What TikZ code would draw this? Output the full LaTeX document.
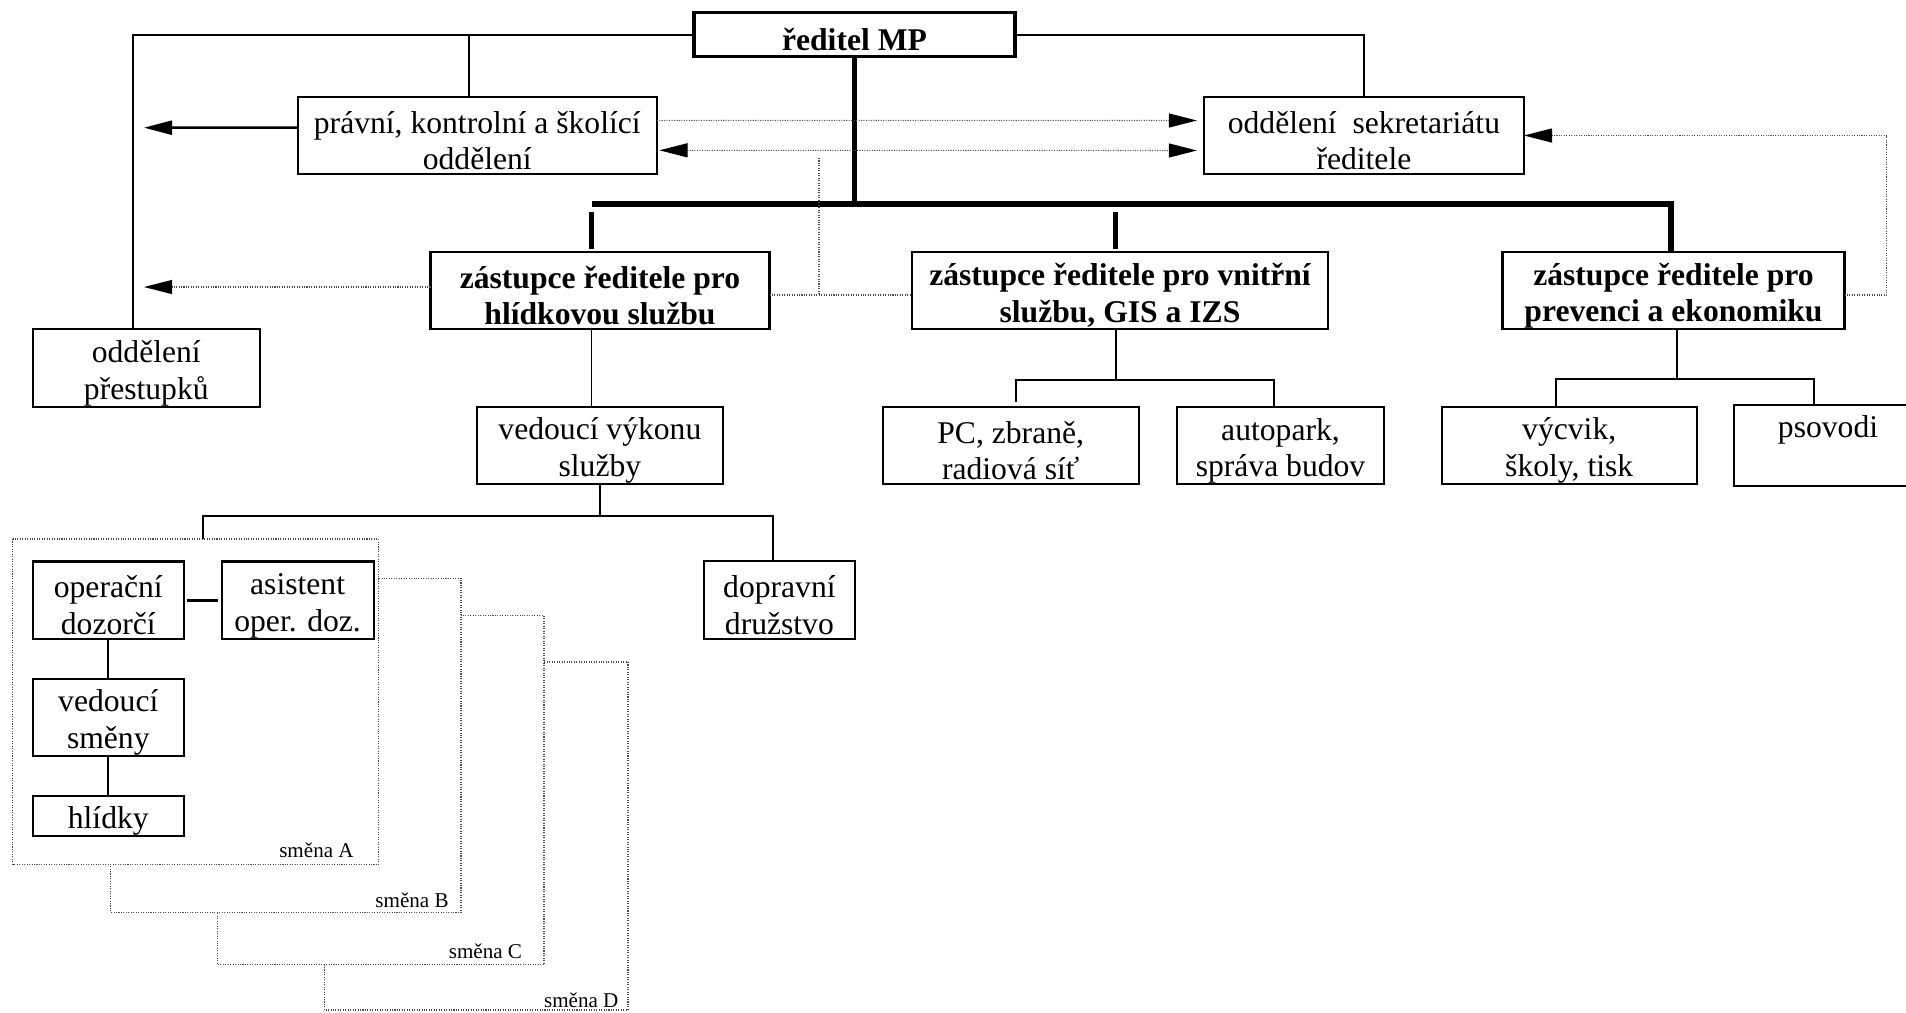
\documentclass[tikz,border=0pt]{standalone}
\usepackage{fontspec}
\setmainfont{Liberation Serif}
\usepackage{tikz}
\usetikzlibrary{positioning,calc,arrows.meta}

\newcommand{\toppad}{\rule{0pt}{18.5pt}}

\tikzset{
    unit/.style={x=0.02cm, y=-0.02cm},
    box/.style={draw, line width=1.2pt, align=center, inner sep=0pt, outer sep=0pt, fill=white,
        font=\fontsize{18}{20.9}\selectfont},
    headbox/.style={box, line width=2pt, font=\fontsize{18}{20.9}\selectfont\bfseries},
    deputybox/.style={box, font=\fontsize{18}{20.9}\selectfont\bfseries},
    boxsize/.style 2 args={minimum width=#1*0.02cm, minimum height=#2*0.02cm},
    link/.style={line width=1pt},
    bus/.style={line width=3pt},
    info/.style={line width=0.6pt, black!70, dash pattern=on 0.6pt off 0.8pt},
    tipend/.style={-{Triangle[length=16pt, width=8pt, black]}},
    bothends/.style={{Triangle[length=16pt, width=8pt, black]}-{Triangle[length=16pt, width=8pt, black]}},
    shiftbox/.style={info, fill=white},
    shiftname/.style={font=\fontsize{12}{14}\selectfont, anchor=base east, inner sep=0pt}
}

\begin{document}
\begin{tikzpicture}[unit]
    \clip (0,0) rectangle (1906,1012);

    % Shifts
    \draw[shiftbox] (324.3,662) rectangle (628,1010);
    \draw[shiftbox] (217.6,615.8) rectangle (544,964.8);
    \draw[shiftbox] (110.8,578.3) rectangle (461,912.5);
    \draw[shiftbox] (12.7,539) rectangle (378.7,864.5);
    \node[shiftname] (smA) at (354,857.5) {směna A};
    \node[shiftname] (smB) at (449,907.4) {směna B};
    \node[shiftname] (smC) at (522.4,958.2) {směna C};
    \node[shiftname] (smD) at (618.8,1007.7) {směna D};

    % Director and staff
    \node[headbox, boxsize={321}{44}] (red) at (854.5,34.7) {\toppad ředitel MP};
    \node[box, boxsize={359}{77}] (prav) at (477.3,135.3) {\toppad právní, kontrolní a školící\\oddělení};
    \node[box, boxsize={320}{77}] (sekr) at (1363.9,135.5) {\toppad oddělení\ \ sekretariátu\\ředitele};
    \node[box, boxsize={227}{78}] (prest) at (146.3,368) {\toppad oddělení\\přestupků};

    % Deputies
    \node[deputybox, boxsize={339}{77}] (hlid) at (600,290.5) {\toppad zástupce ředitele pro\\hlídkovou službu};
    \node[deputybox, boxsize={416}{77}] (vnit) at (1120,290.5) {\toppad zástupce ředitele pro vnitřní\\službu, GIS a IZS};
    \node[deputybox, boxsize={342}{77}] (prev) at (1673.5,290.5) {\toppad zástupce ředitele pro\\prevenci a ekonomiku};

    % Departments
    \node[box, boxsize={246}{77.4}] (vyk) at (599.9,445.3) {\toppad vedoucí výkonu\\služby};
    \node[box, boxsize={256}{77.6}] (pc) at (1010.7,445.5) {\toppad PC, zbraně,\\radiová síť};
    \node[box, boxsize={207.6}{77.6}] (auto) at (1280.5,445.5) {\toppad autopark,\\správa budov};
    \node[box, boxsize={255}{77.6}] (vycv) at (1569.2,445.5) {\toppad výcvik,\\školy, tisk};
    \node[box, boxsize={188}{77.6}] (psov) at (1828,445.5) {\toppad psovodi\\\strut};
    \node[box, boxsize={151}{78}] (dopr) at (779.4,600) {\toppad dopravní\\družstvo};

    % Shift A
    \node[box, boxsize={151.3}{77.5}] (oper) at (108.3,600.2) {\toppad operační\\dozorčí};
    \node[box, boxsize={152}{77.5}] (asis) at (297.6,600.2) {\toppad asistent\\oper. doz.};
    \node[box, boxsize={151.3}{77.3}] (vedsm) at (108.3,717.4) {\toppad vedoucí\\směny};
    \node[box, boxsize={151.3}{40}] (hlidky) at (108.3,816) {\toppad hlídky};

    % Top staff lines
    \coordinate (topleft) at (133,34.7);
    \coordinate (legaljoin) at (469,34.7);
    \draw[link] (red.west) -- (topleft) -- (topleft |- prest.north);
    \draw[link] (legaljoin) -- (legaljoin |- prav.north);
    \draw[link] (red.east) -| (sekr.north);

    % Bus to deputies
    \coordinate (busL) at (591.5,204);
    \coordinate (busM) at (1115.6,212);
    \coordinate (busR) at (1671,204);
    \draw[bus] (red.south) -- (red.south |- busL);
    \draw[bus] (busL) -- (busR) -- (busR |- prev.north);
    \draw[bus] ($(busL)+(0,8)$) -- ($(busL |- hlid.north)+(0,-3)$);
    \draw[bus] (busM) -- ($(busM |- vnit.north)+(0,-3)$);

    % Information flows
    \coordinate (outL) at (144,127.7);
    \coordinate (outH) at (144,287);
    \coordinate (staffup) at (819,158);
    \draw[line width=1.4pt, tipend] ($(prav.west)+(0,-7.6)$) -- (outL);
    \draw[info, tipend] ($(hlid.west)+(0,-3.5)$) -- (outH);
    \draw[info, tipend, shorten >=4pt] ($(prav.east)+(0,-15)$) -- ($(sekr.west)+(0,-15)$);
    \draw[info, bothends, shorten <=1.5pt, shorten >=4pt] ($(prav.east)+(0,15)$) -- ($(sekr.west)+(0,15)$);
    \draw[info] ($(hlid.east)+(0,4.5)$) -- ($(vnit.west)+(0,4.5)$);
    \draw[info] (staffup) -- (staffup |- 0,295);
    \draw[info, tipend] ($(prev.east)+(0,4.5)$) -| ($(sekr.east)+(363,0)$) -- (sekr.east);

    % Hlidkova branch
    \coordinate (teamfork) at (599.9,516);
    \coordinate (shiftin) at (203,539);
    \draw[link] (busL |- hlid.south) -- (busL |- vyk.north);
    \draw[link] (vyk.south) -- (teamfork);
    \draw[link] (shiftin) |- (teamfork) -| (dopr.north -| 773,0);
    \draw[line width=1.8pt, shorten <=2pt, shorten >=2pt] (oper.east) -- (asis.west);
    \draw[link] (oper.south) -- (vedsm.north);
    \draw[link] (vedsm.south) -- (hlidky.north);

    % Vnitrni branch
    \coordinate (techfork) at (1116,380);
    \coordinate (pcin) at (1015.7,401.7);
    \draw[link] (vnit.south -| techfork) -- (techfork);
    \draw[link] (pcin) |- (techfork) -| (auto.north -| 1274,0);

    % Prevence branch
    \coordinate (prevfork) at (1677.3,379.3);
    \draw[link] (prev.south -| prevfork) -- (prevfork);
    \draw[link] (vycv.north -| 1555.7,0) |- (prevfork) -| (psov.north -| 1814.3,0);
\end{tikzpicture}
\end{document}
